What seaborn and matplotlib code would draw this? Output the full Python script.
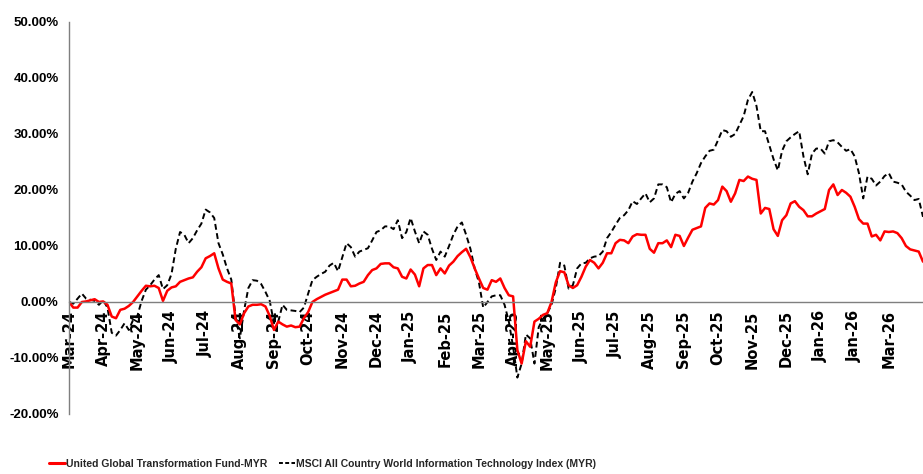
import matplotlib
matplotlib.use('Agg')
import matplotlib.pyplot as plt
from matplotlib.lines import Line2D
from matplotlib.ticker import FixedLocator, FixedFormatter, FuncFormatter
import pandas as pd
import seaborn as sns

# month tick labels, one every 8 samples (samples are ~1/8 month apart)
month_labels = ['Mar-24', 'Apr-24', 'May-24', 'Jun-24', 'Jul-24', 'Aug-24', 'Sep-24',
                'Oct-24', 'Nov-24', 'Dec-24', 'Jan-25', 'Feb-25', 'Mar-25', 'Apr-25',
                'May-25', 'Jun-25', 'Jul-25', 'Aug-25', 'Sep-25', 'Oct-25', 'Nov-25',
                'Dec-25', 'Jan-26', 'Jan-26', 'Mar-26']

# cumulative return, %
fund = [0.0, -1.0, -1.0, 0.0, 0.1, 0.3, 0.5, 0.0, 0.1, -0.5,
        -2.6, -2.9, -1.4, -1.2, -0.7, 0.0, 1.0, 2.0, 2.9, 2.8,
        2.9, 2.5, 0.2, 2.0, 2.6, 2.8, 3.6, 3.9, 4.2, 4.4,
        5.4, 6.2, 7.8, 8.2, 8.7, 6.0, 4.0, 3.6, 3.3, -3.2,
        -4.0, -2.0, -0.8, -0.5, -0.5, -0.4, -0.8, -2.5, -5.0, -3.5,
        -4.0, -4.4, -4.2, -4.5, -4.4, -2.9, -1.8, 0.0, 0.5, 0.9,
        1.3, 1.6, 1.9, 2.2, 4.0, 4.0, 2.8, 2.9, 3.3, 3.6,
        4.8, 5.7, 6.0, 6.8, 6.9, 6.9, 6.2, 6.0, 4.5, 4.2,
        5.8, 4.9, 2.8, 6.0, 6.6, 6.6, 4.8, 6.0, 5.1, 6.5,
        7.2, 8.2, 8.9, 9.5, 8.0, 6.0, 4.2, 2.5, 2.2, 3.9,
        3.6, 4.2, 2.5, 1.2, 1.0, -8.6, -11.0, -7.0, -8.0, -3.5,
        -3.0, -2.3, -2.0, 0.0, 3.5, 5.5, 5.3, 3.0, 2.5, 3.0,
        4.5, 6.3, 7.5, 7.0, 6.0, 7.0, 8.7, 8.7, 10.5, 11.1,
        11.0, 10.5, 11.7, 12.1, 12.0, 12.0, 9.5, 8.8, 10.5, 10.5,
        11.0, 9.8, 12.0, 11.8, 10.0, 11.5, 12.9, 13.2, 13.5, 16.8,
        17.6, 17.4, 18.2, 20.6, 19.8, 17.9, 19.4, 21.8, 21.6, 22.4,
        22.0, 21.8, 15.8, 16.8, 16.6, 13.0, 11.8, 14.6, 15.5, 17.6,
        18.0, 17.0, 16.4, 15.3, 15.3, 15.8, 16.2, 16.6, 20.0, 21.0,
        19.1, 20.0, 19.5, 18.8, 17.0, 14.8, 14.0, 14.0, 11.7, 12.0,
        11.0, 12.6, 12.5, 12.6, 12.3, 11.4, 10.0, 9.4, 9.2, 9.0,
        7.2]

msci = [0.0, -0.3, 0.6, 1.5, 0.6, 0.4, 0.2, -0.5, 0.3, -1.0,
        -5.5, -6.0, -5.0, -3.8, -5.0, -3.2, -2.5, 0.2, 2.2, 3.0,
        4.0, 4.8, 2.3, 3.0, 5.0, 9.5, 12.5, 12.0, 10.5, 11.4,
        12.8, 14.0, 16.5, 16.0, 15.0, 10.5, 8.5, 6.0, 4.0, -2.6,
        -6.5, -1.5, 2.5, 3.9, 3.8, 3.2, 1.8, 0.2, -3.8, -3.5,
        -0.5, -1.4, -1.5, -1.6, -1.8, -1.0, 1.5, 3.9, 4.5, 5.0,
        5.4, 6.5, 7.0, 5.5, 8.0, 10.5, 9.8, 8.1, 9.0, 9.3,
        9.6, 11.0, 12.5, 12.8, 13.5, 13.5, 13.0, 14.6, 11.4, 12.5,
        15.0, 12.6, 10.5, 12.6, 12.0, 9.5, 7.5, 9.0, 8.1, 10.0,
        12.0, 13.5, 14.2, 12.0, 9.5, 6.0, 3.5, -1.0, 0.0, 1.0,
        1.2, 1.2, -0.5, -3.5, -8.0, -13.5, -11.0, -5.8, -6.5, -11.0,
        -4.5, -3.0, -2.0, -0.5, 2.5, 7.0, 6.5, 2.4, 3.0, 6.0,
        6.9, 7.0, 7.8, 8.1, 8.2, 9.0, 11.4, 12.5, 13.8, 15.0,
        15.5, 16.4, 18.0, 17.5, 18.5, 19.4, 17.8, 18.5, 21.0, 21.0,
        20.5, 17.8, 19.3, 19.8, 18.5, 19.5, 21.5, 23.0, 24.8, 26.0,
        27.0, 27.2, 28.9, 30.7, 30.5, 29.5, 30.0, 31.6, 33.2, 36.1,
        37.5, 35.0, 30.5, 30.5, 28.0, 25.5, 23.5, 27.0, 28.7, 29.4,
        30.0, 30.5, 26.0, 22.8, 26.5, 27.4, 27.4, 26.5, 28.7, 28.9,
        28.5, 27.7, 27.0, 27.3, 26.0, 23.0, 18.5, 22.4, 22.0, 20.8,
        21.5, 22.5, 23.0, 21.5, 21.3, 21.0, 19.7, 19.0, 18.2, 18.4,
        15.2]

fund_name = 'United Global Transformation Fund-MYR'
msci_name = 'MSCI All Country World Information Technology Index (MYR)'

df = pd.DataFrame({'t': range(len(fund)), 'fund': fund, 'msci': msci})

sns.set_style('white')
plt.rcParams['font.family'] = ['Liberation Sans', 'DejaVu Sans']

fig = plt.figure(figsize=(9.23, 4.74), dpi=100)
ax = fig.add_axes([0.0748, 0.1266, 0.9252, 0.827])

sns.lineplot(data=df, x='t', y='msci', ax=ax, color='black', linewidth=1.4,
             linestyle=(0, (3, 1.8)))
sns.lineplot(data=df, x='t', y='fund', ax=ax, color='#ff0000', linewidth=1.8)

ax.set_xlim(0, 200)
ax.set_ylim(-20, 50)
ax.set_yticks(range(-20, 51, 10))
ax.yaxis.set_major_formatter(FuncFormatter(lambda v, p: f'{v:.2f}%'))
ax.xaxis.set_major_locator(FixedLocator(range(0, 8 * len(month_labels), 8)))
ax.xaxis.set_major_formatter(FixedFormatter(month_labels))
ax.set_xlabel('')
ax.set_ylabel('')

for s in ['top', 'right']:
    ax.spines[s].set_visible(False)
ax.spines['bottom'].set_position(('data', 0))
for s in ['bottom', 'left']:
    ax.spines[s].set_color('#7f7f7f')
    ax.spines[s].set_linewidth(1.0)
ax.tick_params(axis='both', direction='out', length=4, width=0.8, color='#7f7f7f',
               labelcolor='black')
ax.tick_params(axis='x', pad=2, labelrotation=90)
ax.tick_params(axis='y', pad=3.5)

fig.canvas.draw()
for lab in ax.get_xticklabels():
    lab.set_fontweight('bold')
    lab.set_fontsize(10.5)
    lab.set_family('DejaVu Sans')
for lab in ax.get_yticklabels():
    lab.set_fontweight('bold')
    lab.set_fontsize(9.5)

handles = [Line2D([], [], color='#ff0000', linewidth=2.2),
           Line2D([], [], color='black', linewidth=1.4, linestyle=(0, (2, 1.2)))]
fig.legend(handles, [fund_name, msci_name], loc='center left',
           bbox_to_anchor=(0.043, 0.021), ncol=2, frameon=False,
           handlelength=1.5, handletextpad=0.1, columnspacing=1.2,
           prop={'weight': 'bold', 'size': 7.5})

fig.savefig('out.png', dpi=100)
